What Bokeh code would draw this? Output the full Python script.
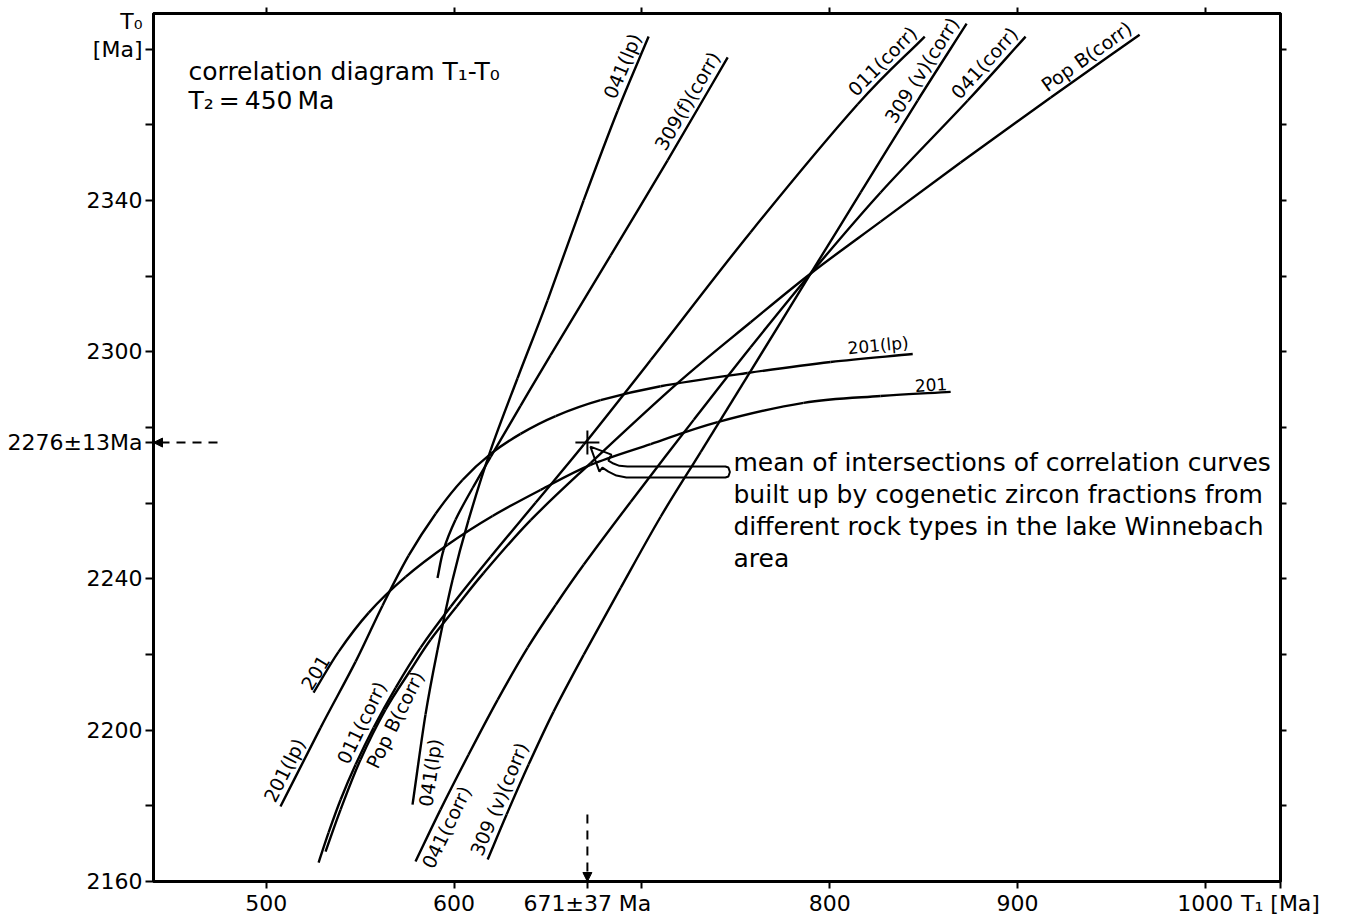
import math
import numpy as np
from bokeh.plotting import figure
from bokeh.models import FixedTicker, LinearAxis, Range1d, Label, Arrow, NormalHead
from bokeh.core.properties import value
from bokeh.embed import file_html
from bokeh.resources import INLINE

FONT = "DejaVu Sans"

# ---------------- data ----------------
T1_MIN, T1_MAX = 440, 1040
T0_MIN, T0_MAX = 2160, 2389.4
T1_TICKS = [500, 600, 700, 800, 900, 1000]
T1_TICK_LABELS = {500: "500", 600: "600", 800: "800", 900: "900", 1000: "1000"}
T0_TICKS = [2160, 2180, 2200, 2220, 2240, 2260, 2280, 2300, 2320, 2340, 2360, 2380]
T0_TICK_LABELS = {2160: "2160", 2200: "2200", 2240: "2240", 2300: "2300", 2340: "2340"}
T1_AXIS_TITLE = "T₁ [Ma]"
T0_AXIS_TITLE = "T₀\n[Ma]\n\u00a0"
MEAN_T1, MEAN_T1_ERR = 671, 37
MEAN_T0, MEAN_T0_ERR = 2276, 13
T2 = 450

c201_t1 = [525.2, 538.5, 554.5, 574.2, 596.6, 620.5, 646.1, 672.7, 704.7, 740.3, 786.1, 827.1, 864.4]
c201_t0 = [2209.9, 2220.7, 2231.0, 2240.5, 2249.0, 2256.6, 2263.5, 2270.1, 2275.6, 2281.4, 2286.5, 2288.3, 2289.4]

c201lp_t1 = [507.6, 528.9, 547.6, 561.9, 575.8, 590.2, 604.5, 619.5, 635.4, 654.1, 678.0, 710.0, 756.3, 800.5, 844.2]
c201lp_t0 = [2179.8, 2200.6, 2218.1, 2232.9, 2246.1, 2257.2, 2266.1, 2273.0, 2278.3, 2283.0, 2287.2, 2290.9, 2294.4, 2297.3, 2299.4]

c041lp_t1 = [577.9, 584.8, 591.2, 599.2, 607.7, 619.5, 633.8, 649.8, 669.0, 687.1, 703.6]
c041lp_t0 = [2180.3, 2204.1, 2221.2, 2239.7, 2255.5, 2274.0, 2293.0, 2313.6, 2340.0, 2363.7, 2383.3]

c309f_t1 = [591.2, 594.4, 600.8, 609.9, 619.5, 635.4, 651.4, 683.4, 713.7, 745.7]
c309f_t0 = [2240.2, 2247.6, 2255.6, 2264.0, 2272.2, 2285.7, 2299.1, 2325.5, 2350.6, 2377.8]

c011_t1 = [527.9, 533.2, 539.6, 547.6, 557.2, 568.9, 582.2, 598.2, 619.5, 643.4, 669.0, 704.7, 757.9, 814.9, 850.6]
c011_t0 = [2165.0, 2172.9, 2181.6, 2190.9, 2200.7, 2211.2, 2221.8, 2232.6, 2245.8, 2260.1, 2275.4, 2297.8, 2331.6, 2365.4, 2383.3]

cpopb_t1 = [531.6, 539.6, 550.2, 563.5, 576.9, 587.5, 601.3, 615.7, 640.8, 672.7, 719.0, 757.9, 789.9, 827.1, 869.7, 917.7, 965.0]
cpopb_t0 = [2167.9, 2179.0, 2192.2, 2205.4, 2215.9, 2223.9, 2232.6, 2241.5, 2255.5, 2270.6, 2291.7, 2307.8, 2320.7, 2334.4, 2350.0, 2367.2, 2383.8]

c041c_t1 = [579.5, 592.8, 607.7, 623.2, 639.2, 654.1, 669.0, 694.0, 727.6, 757.9, 789.9, 827.1, 873.5, 904.3]
c041c_t0 = [2165.3, 2179.0, 2193.5, 2208.0, 2221.8, 2233.1, 2243.7, 2260.3, 2282.0, 2301.2, 2320.7, 2342.1, 2366.4, 2383.3]

c309v_t1 = [617.9, 628.0, 639.7, 653.0, 669.0, 688.7, 710.0, 731.3, 757.9, 789.9, 816.5, 846.8, 872.9]
c309v_t0 = [2165.8, 2177.7, 2190.9, 2204.9, 2219.9, 2237.6, 2256.4, 2273.5, 2294.9, 2320.7, 2342.1, 2366.4, 2386.7]

CURVES = {
    "201": (c201_t1, c201_t0),
    "201lp": (c201lp_t1, c201lp_t0),
    "041lp": (c041lp_t1, c041lp_t0),
    "309f": (c309f_t1, c309f_t0),
    "011": (c011_t1, c011_t0),
    "popb": (cpopb_t1, cpopb_t0),
    "041c": (c041c_t1, c041c_t0),
    "309v": (c309v_t1, c309v_t0),
}

ANNOTATION = ["mean of intersections of correlation curves",
              "built up by cogenetic zircon fractions from",
              "different rock types in the lake Winnebach",
              "area"]

# ---------------- geometry ----------------
W, H = 1347, 918
FL, FR, FT, FB = 153, 1280, 13, 882
KX = (FR - FL) / (T1_MAX - T1_MIN)
KY = (FB - FT) / (T0_MAX - T0_MIN)


def to_data(px, py):
    return T1_MIN + (px - FL) / KX, T0_MIN + (FB - py) / KY


def to_px(t1, t0):
    return FL + (t1 - T1_MIN) * KX, FB - (t0 - T0_MIN) * KY


p = figure(width=W, height=H, x_range=Range1d(T1_MIN, T1_MAX), y_range=Range1d(T0_MIN, T0_MAX),
           min_border_left=FL, min_border_right=W - FR, min_border_top=FT, min_border_bottom=H - FB,
           toolbar_location=None, output_backend="svg")
p.grid.visible = False
p.outline_line_color = "black"
p.outline_line_width = 3
p.background_fill_color = "white"
p.border_fill_color = "white"

# bottom axis: ticks, tick labels, the mean T1 and the axis title as labels
xa = p.xaxis[0]
x_ticks = sorted(T1_TICKS + [MEAN_T1, T1_MAX])
x_over = {t: T1_TICK_LABELS.get(t, "") for t in x_ticks}
x_over[MEAN_T1] = f"{MEAN_T1}±{MEAN_T1_ERR} Ma"
x_over[T1_MAX] = T1_AXIS_TITLE
xa.ticker = FixedTicker(ticks=x_ticks, minor_ticks=[])
xa.major_label_overrides = x_over
xa.major_label_text_font = FONT
xa.major_label_text_font_size = "22px"
xa.major_label_text_color = "black"
xa.major_label_standoff = 2
xa.major_tick_out = 7
xa.major_tick_in = 0
xa.axis_line_width = 3
xa.major_tick_line_width = 2

# left axis
ya = p.yaxis[0]
y_ticks = sorted(T0_TICKS + [MEAN_T0])
y_over = {t: T0_TICK_LABELS.get(t, "") for t in y_ticks}
y_over[MEAN_T0] = f"{MEAN_T0}±{MEAN_T0_ERR}Ma"
y_over[T0_TICKS[-1]] = T0_AXIS_TITLE
ya.ticker = FixedTicker(ticks=y_ticks, minor_ticks=[])
ya.major_label_overrides = y_over
ya.major_label_text_font = FONT
ya.major_label_text_font_size = "22px"
ya.major_label_text_color = "black"
ya.major_label_text_line_height = 1.1
ya.major_label_standoff = 3
ya.major_tick_out = 8
ya.major_tick_in = 0
ya.axis_line_width = 3
ya.major_tick_line_width = 2

top = LinearAxis(ticker=FixedTicker(ticks=T1_TICKS, minor_ticks=[]), major_label_text_font_size="0px",
                 major_label_standoff=0, major_tick_out=6, major_tick_in=0, axis_line_width=3,
                 major_tick_line_width=2)
p.add_layout(top, "above")
right = LinearAxis(ticker=FixedTicker(ticks=T0_TICKS[1:], minor_ticks=[]), major_label_text_font_size="0px",
                   major_label_standoff=0, major_tick_out=6, major_tick_in=0, axis_line_width=3,
                   major_tick_line_width=2)
p.add_layout(right, "right")


# ---------------- curves (smooth Catmull-Rom rendering through the read points) ----------------
def bezier_segments(t1, t0):
    x = np.asarray(t1, float)
    y = np.asarray(t0, float)
    n = len(x)
    xe = np.concatenate([[2 * x[0] - x[1]], x, [2 * x[-1] - x[-2]]])
    ye = np.concatenate([[2 * y[0] - y[1]], y, [2 * y[-1] - y[-2]]])
    seg = dict(x0=[], y0=[], x1=[], y1=[], cx0=[], cy0=[], cx1=[], cy1=[])
    for i in range(n - 1):
        j = i + 1
        seg["x0"].append(x[i]); seg["y0"].append(y[i])
        seg["x1"].append(x[i + 1]); seg["y1"].append(y[i + 1])
        seg["cx0"].append(x[i] + (xe[j + 1] - xe[j - 1]) / 6)
        seg["cy0"].append(y[i] + (ye[j + 1] - ye[j - 1]) / 6)
        seg["cx1"].append(x[i + 1] - (xe[j + 2] - xe[j]) / 6)
        seg["cy1"].append(y[i + 1] - (ye[j + 2] - ye[j]) / 6)
    return seg


for key, (t1, t0) in CURVES.items():
    s = bezier_segments(t1, t0)
    p.bezier(x0=s["x0"], y0=s["y0"], x1=s["x1"], y1=s["y1"], cx0=s["cx0"], cy0=s["cy0"],
             cx1=s["cx1"], cy1=s["cy1"], line_color="black", line_width=2.4)

# ---------------- curve labels ----------------
LABELS = [
    ("041(lp)", "041lp", "end", "above", 19),
    ("309(f)(corr)", "309f", "end", "above", 19),
    ("011(corr)", "011", "end", "above", 19),
    ("309 (v)(corr)", "309v", "end", "above", 19),
    ("041(corr)", "041c", "end", "above", 19),
    ("Pop B(corr)", "popb", "end", "above", 19),
    ("201(lp)", "201lp", "end", "above", 17),
    ("201", "201", "end", "above", 17),
    ("201", "201", "start", "above", 19),
    ("201(lp)", "201lp", "start", "above", 19),
    ("041(lp)", "041lp", "start", "below", 19),
    ("041(corr)", "041c", "start", "below", 19),
    ("309 (v)(corr)", "309v", "start", "above", 19),
    ("011(corr)", "011", 2200.5, "above", 19),
    ("Pop B(corr)", "popb", 2204.3, "below", 19),
]

for text, key, where, side, fs in LABELS:
    t1, t0 = CURVES[key]
    if where == "end":
        ia, ib = -2, -1
        ax, ay = t1[-1], t0[-1]
        align = "right"
    elif where == "start":
        ia, ib = 0, 1
        ax, ay = t1[0], t0[0]
        align = "left"
    else:
        ay = where
        ax = float(np.interp(ay, t0, t1))
        i = int(np.searchsorted(t0, ay))
        ia, ib = i - 1, i
        align = "center"
    th = math.atan2((t0[ib] - t0[ia]) * KY, (t1[ib] - t1[ia]) * KX)
    pad = 2.0
    if side == "above":
        ox, oy = -pad * math.sin(th), -pad * math.cos(th)
        base = "bottom"
    else:
        ox, oy = pad * math.sin(th), pad * math.cos(th)
        base = "top"
    if where == "end":
        ox -= 3 * math.cos(th)
        oy += 3 * math.sin(th)
    p.text(x=[ax], y=[ay], text=[text], angle=th, x_offset=ox, y_offset=oy,
           text_align=value(align), text_baseline=value(base), text_font=value(FONT),
           text_font_size=value(f"{fs}px"), text_color="black")

# ---------------- mean point and annotations ----------------
p.scatter([MEAN_T1], [MEAN_T0], marker="cross", size=24, line_width=2, line_color="black")

mx, my = to_px(MEAN_T1, MEAN_T0)
tipx, tipy = mx + 3, my + 4
ARROW_SHAPE = [(0, 0), (21, 8), (18, 14), (23, 17), (29, 19.3), (37, 20), (135, 20), (138, 21),
               (139.5, 25.5), (138, 30), (135, 31), (36, 31), (26, 29), (18, 25), (12, 21), (9, 25)]
axs, ays = zip(*[to_data(tipx + dx, tipy + dy) for dx, dy in ARROW_SHAPE])
p.patch(list(axs), list(ays), fill_alpha=0, line_color="black", line_width=2)

for i, line in enumerate(ANNOTATION):
    lx, ly = to_data(733, 463 + 32 * i)
    p.add_layout(Label(x=lx, y=ly, text=line, text_font=FONT, text_font_size="25px",
                       text_baseline="alphabetic", text_align="left", text_color="black"))

tx, ty = to_data(188, 71)
p.add_layout(Label(x=tx, y=ty, text="correlation diagram T₁-T₀", text_font=FONT, text_font_size="25px",
                   text_baseline="alphabetic", text_color="black"))
tx, ty = to_data(188, 100)
p.add_layout(Label(x=tx, y=ty, text=f"T₂\u2009=\u2009{T2}\u2009Ma", text_font=FONT, text_font_size="25px",
                   text_baseline="alphabetic", text_color="black"))

# dashed leaders to the axes
hx0, _ = to_data(217, 0)
p.add_layout(Arrow(end=NormalHead(size=9, fill_color="black", line_color="black"),
                   x_start=hx0, y_start=MEAN_T0, x_end=T1_MIN, y_end=MEAN_T0,
                   line_dash="9 7", line_width=2, line_color="black"))
_, vy0 = to_data(0, 815)
p.add_layout(Arrow(end=NormalHead(size=9, fill_color="black", line_color="black"),
                   x_start=MEAN_T1, y_start=vy0, x_end=MEAN_T1, y_end=T0_MIN,
                   line_dash="9 7", line_width=2, line_color="black"))

open("out.html", "w").write(file_html(p, INLINE))
